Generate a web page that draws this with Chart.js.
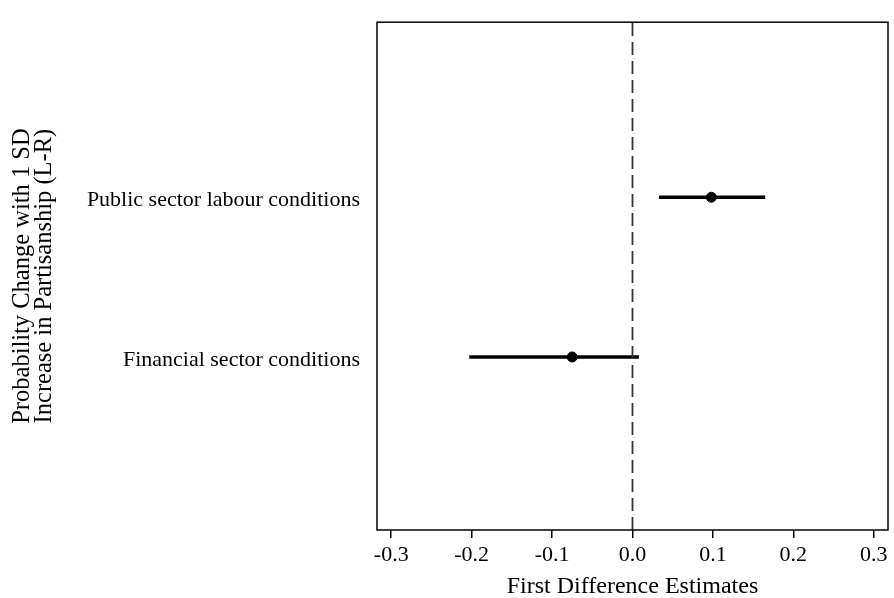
<!DOCTYPE html>
<html>
<head>
<meta charset="utf-8">
<script src="https://cdn.jsdelivr.net/npm/chart.js@4"></script>
<style>
  html, body { margin: 0; padding: 0; background: #fff; }
  #wrap { width: 894px; height: 598px; }
</style>
</head>
<body>
<div id="wrap"><canvas id="myChart"></canvas></div>
<script>
// --- data ---
const categories = ['Financial sector conditions', 'Public sector labour conditions'];
const rowPos = [1, 2];
const estimates = [-0.075, 0.098];
const lower = [-0.203, 0.033];
const upper = [0.008, 0.165];
const xTicks = [-0.3, -0.2, -0.1, 0.0, 0.1, 0.2, 0.3];

const FONT = 'Liberation Serif';
const Y_MIN = -0.083, Y_MAX = 3.096;

// one line dataset per confidence interval
const ciSets = categories.map((c, i) => ({
    type: 'line',
    data: [{ x: lower[i], y: rowPos[i] }, { x: upper[i], y: rowPos[i] }],
    borderColor: '#000',
    borderWidth: 3.5,
    pointRadius: 0,
    fill: false
}));

// dashed reference line at zero
const zeroLine = {
    type: 'line',
    data: [{ x: 0, y: Y_MIN }, { x: 0, y: Y_MAX }],
    borderColor: '#333',
    borderWidth: 1.8,
    borderDash: [13, 6],
    pointRadius: 0,
    fill: false
};

const pointSet = {
    type: 'scatter',
    data: estimates.map((v, i) => ({ x: v, y: rowPos[i] })),
    backgroundColor: '#000',
    borderColor: '#000',
    pointRadius: 5,
    pointStyle: 'circle'
};

// frame around plot + rotated y title
const framePlugin = {
    id: 'frame',
    afterDraw(chart) {
        const { ctx, chartArea: a } = chart;
        ctx.save();
        ctx.strokeStyle = '#000';
        ctx.lineWidth = 1.5;
        ctx.strokeRect(a.left, a.top, a.right - a.left, a.bottom - a.top);
        ctx.translate(0, (a.top + a.bottom) / 2);
        ctx.rotate(-Math.PI / 2);
        ctx.fillStyle = '#000';
        ctx.font = '24.5px "' + FONT + '"';
        ctx.textAlign = 'center';
        ctx.textBaseline = 'middle';
        ctx.fillText('Probability Change with 1 SD', 0, 23);
        ctx.fillText('Increase in Partisanship (L-R)', 0, 45);
        ctx.restore();
    }
};

const ctx = document.getElementById('myChart').getContext('2d');
const myChart = new Chart(ctx, {
    data: { datasets: [zeroLine, ...ciSets, pointSet] },
    options: {
        responsive: true,
        maintainAspectRatio: false,
        animation: false,
        layout: { padding: { top: 15, right: 4, left: 0, bottom: 0 } },
        plugins: { legend: { display: false }, tooltip: { enabled: false } },
        scales: {
            x: {
                type: 'linear',
                min: -0.3177,
                max: 0.3177,
                afterBuildTicks: s => { s.ticks = xTicks.map(v => ({ value: v })); },
                afterFit: s => { s.height = 68; },
                grid: { display: true, drawOnChartArea: false, drawTicks: true, tickLength: 8, color: '#000', lineWidth: 1.5 },
                border: { display: false },
                ticks: {
                    color: '#000',
                    font: { family: FONT, size: 22 },
                    padding: 4,
                    maxRotation: 0,
                    callback: v => v.toFixed(1)
                },
                title: {
                    display: true,
                    text: 'First Difference Estimates',
                    color: '#000',
                    font: { family: FONT, size: 24, lineHeight: 0.92 },
                    padding: { top: 0, bottom: 0 }
                }
            },
            y: {
                type: 'linear',
                min: Y_MIN,
                max: Y_MAX,
                afterBuildTicks: s => { s.ticks = rowPos.map(v => ({ value: v })); },
                afterFit: s => { s.width = 377; },
                grid: { display: false },
                border: { display: false },
                ticks: {
                    color: '#000',
                    font: { family: FONT, size: 22 },
                    padding: 9,
                    labelOffset: 3,
                    callback: v => categories[rowPos.indexOf(v)]
                }
            }
        }
    },
    plugins: [framePlugin]
});
</script>
</body>
</html>
